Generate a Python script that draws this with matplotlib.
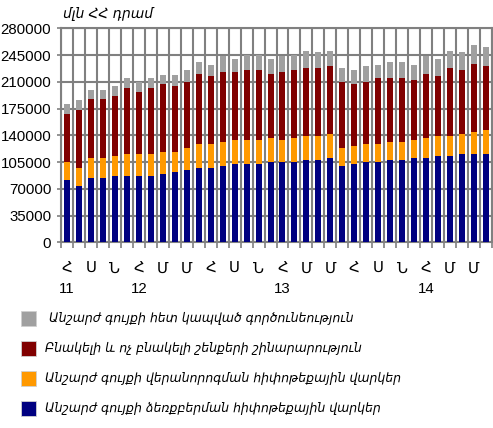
import matplotlib
matplotlib.use("Agg")
import matplotlib.pyplot as plt
from matplotlib.patches import Rectangle
import numpy as np

plt.rcParams["font.family"] = ["Liberation Sans", "DejaVu Sans"]

# Monthly values, Jul 2011 - Jun 2014 (million AMD)
purchase_mortgage = [81700, 74200, 84300, 84300, 86900, 86900, 86900, 86900, 89500,
                     92200, 94800, 97400, 97400, 100000, 102600, 102600, 102600, 105300,
                     105300, 105300, 107900, 107900, 110500, 100000, 102600, 105300,
                     105300, 107900, 107900, 110500, 110500, 113100, 113100, 115800,
                     115800, 115800]
renovation_mortgage = [23200, 22800, 25800, 25800, 26200, 28800, 28800, 28800, 28800,
                       26200, 28800, 31500, 31500, 31500, 31500, 31500, 31500, 31100,
                       28800, 31100, 31500, 31500, 31500, 23600, 23600, 23600, 23600,
                       23600, 23600, 23600, 25800, 26200, 26200, 26200, 28800, 31500]
construction = [63300, 76400, 76800, 76800, 78700, 86100, 81300, 86100, 88800, 86100,
                86500, 91800, 89100, 91800, 89100, 91800, 91800, 84300, 89100, 89500,
                89100, 89100, 89100, 86500, 81300, 81300, 86500, 83900, 83900, 78700,
                84300, 78700, 89100, 83900, 89100, 83900]
real_estate_activity = [12700, 13100, 12300, 12300, 12700, 12600, 13100, 12600, 12200,
                        14800, 14800, 14800, 14400, 20100, 17000, 19700, 19700, 19700,
                        21000, 19700, 22300, 20100, 19700, 17400, 17400, 20100, 17000,
                        20100, 20100, 19700, 22700, 22300, 22300, 22700, 24900, 24900]

month_labels = ["Հ", "Ս", "Ն", "Հ", "Մ", "Մ"] * 3
year_labels = ["11", "", "", "12", "", "", "", "", "", "13", "", "", "", "", "", "14", "", ""]

series = [
    (purchase_mortgage, "#000080", "Անշարժ գույքի ձեռքբերման հիփոթեքային վարկեր"),
    (renovation_mortgage, "#FF9900", "Անշարժ գույքի վերանորոգման հիփոթեքային վարկեր"),
    (construction, "#800000", "Բնակելի և ոչ բնակելի շենքերի շինարարություն"),
    (real_estate_activity, "#A0A0A0", " Անշարժ գույքի հետ կապված գործունեություն"),
]

W, H = 493, 428
fig = plt.figure(figsize=(W / 100, H / 100), dpi=100)
ax = fig.add_axes([61 / W, 1 - 242.3 / H, 431 / W, 214 / H])

x = np.arange(len(purchase_mortgage))
bottom = np.zeros(len(x))
for vals, color, _ in series:
    ax.bar(x, vals, width=0.5, bottom=bottom, color=color, linewidth=0, zorder=3)
    bottom += np.array(vals)

grid_c = "#808080"
ax.set_xlim(-0.5, len(x) - 0.5)
ax.set_ylim(0, 280000)
ax.set_yticks(np.arange(0, 280001, 35000))
ax.set_yticklabels([str(v) for v in range(0, 280001, 35000)], fontsize=10.8)

ax.set_xticks(np.arange(0, len(x), 2))
ax.set_xticklabels([f"{m}\n{y}" for m, y in zip(month_labels, year_labels)],
                   fontsize=10.8, linespacing=1.55)
ax.set_xticks(np.arange(-0.5, len(x), 1), minor=True)
ax.tick_params(axis="x", which="major", length=0, pad=14)
ax.tick_params(axis="x", which="minor", length=4, color=grid_c, width=1.2)
ax.tick_params(axis="y", length=3, color=grid_c, width=1.2, pad=4)

ax.grid(axis="y", which="major", color=grid_c, linewidth=1.5, zorder=0)
ax.grid(axis="x", which="minor", color=grid_c, linewidth=1.5, zorder=0)
ax.set_axisbelow(True)
for s in ax.spines.values():
    s.set_color(grid_c)
    s.set_linewidth(1.5)

italic_font = dict(family="DejaVu Sans", style="oblique")

fig.text(63 / W, 1 - 14 / H, "մլն ՀՀ դրամ", fontsize=10, va="center", ha="left",
         **italic_font)

# Legend, topmost stack segment first
legend_y = [318, 348, 378, 408]
for (vals, color, label), yc in zip(series[::-1], legend_y):
    fig.patches.append(Rectangle((21 / W, 1 - (yc + 7.5) / H), 15 / W, 15 / H,
                                 transform=fig.transFigure, facecolor=color,
                                 edgecolor="#d0d0d0", linewidth=0.6))
    fig.text(45 / W, 1 - yc / H, label, fontsize=9.0, va="center", ha="left",
             **italic_font)

fig.savefig("out.png", dpi=100)
